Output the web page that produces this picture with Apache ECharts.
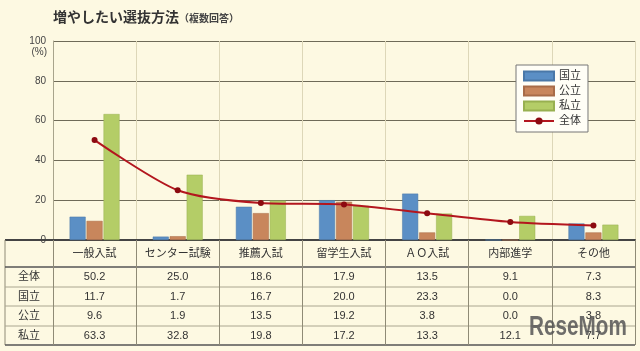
<!DOCTYPE html>
<html>
<head>
<meta charset="utf-8">
<title>増やしたい選抜方法</title>
<script src="https://cdn.jsdelivr.net/npm/echarts@6/dist/echarts.min.js"></script>
<style>
html,body{margin:0;padding:0;background:#fdf9e2;}
#main{width:640px;height:351px;}
</style>
</head>
<body>
<div id="main"></div>
<script>
// 選抜方法ごとのデータ
var categories = ['一般入試','センター試験','推薦入試','留学生入試','ＡＯ入試','内部進学','その他'];
var total    = [50.2, 25.0, 18.6, 17.9, 13.5, 9.1, 7.3];   // 全体
var national = [11.7, 1.7, 16.7, 20.0, 23.3, 0.0, 8.3];    // 国立
var publicU  = [9.6, 1.9, 13.5, 19.2, 3.8, 0.0, 3.8];      // 公立
var privateU = [63.3, 32.8, 19.8, 17.2, 13.3, 12.1, 7.7];  // 私立
var yTicks = [0, 20, 40, 60, 80, 100];
var rowNames = ['全体','国立','公立','私立'];
var rowValues = [total, national, publicU, privateU];

var font = "'Liberation Sans','Noto Sans CJK JP',sans-serif";
var txt = '#333';

// 表の位置
var tableTop = 240;
var rowLines = [267, 287, 306, 326, 345];
var rowOffsets = [37, 57, 76, 96];

var xAxes = [{
	type: 'category',
	data: categories,
	gridIndex: 0,
	position: 'bottom',
	axisLine: {show: true, lineStyle: {color: '#444', width: 2}},
	axisTick: {show: true, length: 105, interval: 0, lineStyle: {color: '#8f8b76', width: 1}},
	axisLabel: {interval: 0, margin: 8, fontSize: 11, color: txt, fontFamily: font},
	splitLine: {show: true, interval: 0, lineStyle: {color: '#ddd7b8', width: 1}}
}];

for (var k = 0; k < rowNames.length; k++) {
	(function(k){
		xAxes.push({
			type: 'category',
			data: categories,
			gridIndex: 0,
			position: 'bottom',
			offset: rowOffsets[k],
			name: rowNames[k],
			nameLocation: 'start',
			nameGap: 24,
			nameTextStyle: {align: 'center', verticalAlign: 'middle', fontSize: 11, color: txt, fontFamily: font},
			axisLine: {show: false},
			axisTick: {show: false},
			splitLine: {show: false},
			axisLabel: {
				interval: 0, margin: 0, verticalAlign: 'middle',
				fontSize: 11, color: txt, fontFamily: font,
				formatter: function(v, i){ return rowValues[k][i].toFixed(1); }
			}
		});
	})(k);
}

// 表の罫線
var tableLines = [
	{type:'line', shape:{x1:5, y1:tableTop, x2:635, y2:tableTop}, style:{stroke:'#444', lineWidth:2}},
	{type:'line', shape:{x1:5, y1:tableTop, x2:5, y2:rowLines[4]}, style:{stroke:'#8f8b76', lineWidth:1}}
];
for (var r = 0; r < rowLines.length; r++) {
	var heavy = (r == 0 || r == rowLines.length - 1);
	tableLines.push({type:'line', shape:{x1:5, y1:rowLines[r], x2:635, y2:rowLines[r]},
		style:{stroke: heavy ? '#555' : '#aaa690', lineWidth: heavy ? 1.5 : 1}});
}
// 透かし
tableLines.push({type:'text', x: 529, y: 313, scaleX: 0.74, z: 100,
	style:{text:'ReseMom', fontSize: 28, fontWeight:'bold', fontFamily:"'Liberation Sans',sans-serif", fill:'rgba(85,85,85,0.85)'}});

var myChart = echarts.init(document.getElementById('main'));
var option = {
	backgroundColor: '#fdf9e2',
	animation: false,
	title: {
		left: 48, top: 5,
		text: '{a|増やしたい選抜方法}{b|（複数回答）}',
		textStyle: {
			rich: {
				a: {fontSize: 14, fontWeight: 'bold', color: '#333', fontFamily: "'Noto Sans CJK JP',sans-serif"},
				b: {fontSize: 10, color: '#444', fontFamily: "'Noto Sans CJK JP',sans-serif", padding: [3,0,0,0]}
			}
		}
	},
	legend: {
		orient: 'vertical',
		left: 516, top: 65,
		itemWidth: 30, itemHeight: 9, itemGap: 1,
		padding: [4, 7, 4, 7],
		backgroundColor: '#fffef6',
		borderColor: '#777', borderWidth: 1,
		textStyle: {fontSize: 11, color: txt, lineHeight: 14, fontFamily: font},
		data: [
			{name: '国立', icon: 'rect'},
			{name: '公立', icon: 'rect'},
			{name: '私立', icon: 'rect'},
			{name: '全体'}
		]
	},
	grid: {left: 53, right: 5, top: 41, bottom: 111, outerBoundsMode: 'none'},
	xAxis: xAxes,
	yAxis: {
		type: 'value',
		min: yTicks[0], max: yTicks[yTicks.length - 1], interval: 20,
		name: '(%)', nameLocation: 'end', nameGap: -16,
		nameTextStyle: {align: 'right', padding: [0, 6, 0, 0], fontSize: 10, color: '#444', fontFamily: font},
		axisLine: {show: true, lineStyle: {color: '#a8a48c'}},
		axisTick: {show: false},
		axisLabel: {margin: 7, fontSize: 10, color: '#444', fontFamily: font},
		splitLine: {lineStyle: {color: '#6f6b58', width: 1.2}}
	},
	series: [
		{name: '国立', type: 'bar', data: national, barWidth: 16, barGap: '6%',
			itemStyle: {color: '#5b8fc5', borderColor: '#4a78a8', borderWidth: 0.5}},
		{name: '公立', type: 'bar', data: publicU, barWidth: 16, barGap: '6%',
			itemStyle: {color: '#c8865c', borderColor: '#a86c48', borderWidth: 0.5}},
		{name: '私立', type: 'bar', data: privateU, barWidth: 16, barGap: '6%',
			itemStyle: {color: '#b4cd67', borderColor: '#98b050', borderWidth: 0.5}},
		{name: '全体', type: 'line', data: total, z: 5, smooth: 0.25,
			symbol: 'circle', symbolSize: 6,
			lineStyle: {color: '#b3161e', width: 2},
			itemStyle: {color: '#8c0a10'}}
	],
	graphic: tableLines
};
myChart.setOption(option);
</script>
</body>
</html>
